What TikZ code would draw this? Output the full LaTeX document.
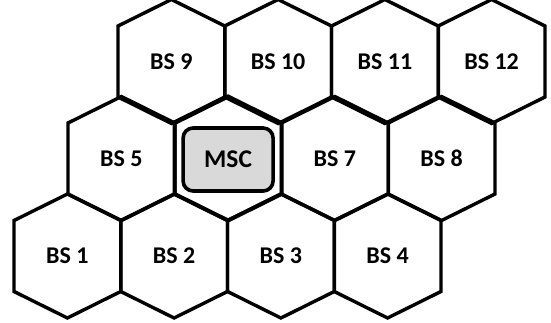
\documentclass[tikz,border=0pt]{standalone}
\usepackage{fontspec}
\setmainfont{Carlito}
\definecolor{mscgray}{HTML}{D9D9D9}
\begin{document}
\begin{tikzpicture}[
  x=1pt, y=-1pt,
  cell/.style={draw, line width=3.4pt, line join=miter},
  lbl/.style={font=\bfseries\fontsize{24}{27}\selectfont, inner sep=0pt},
  mscbox/.style={draw, line width=3.6pt, fill=mscgray, rounded corners=10pt,
    minimum width=90pt, minimum height=63pt, inner sep=0pt,
    font=\bfseries\fontsize{25.5}{28}\selectfont}
]
\useasboundingbox (0,0) rectangle (551,322);
% base station cells: centre x / centre y / name / label
\foreach \cx/\cy/\nm/\txt in {
  67.4/256/bs1/BS 1, 174.1/256/bs2/BS 2, 280.9/256/bs3/BS 3, 387.6/256/bs4/BS 4,
  121.4/158.5/bs5/BS 5, 334.9/158.5/bs7/BS 7, 441.6/158.5/bs8/BS 8,
  171.4/61.5/bs9/BS 9, 278.1/61.5/bs10/BS 10, 384.9/61.5/bs11/BS 11, 491.6/61.5/bs12/BS 12}{
  \draw[cell] (\cx-53.4,\cy-35.5) -- ++(53.4,-26.5) -- ++(53.4,26.5) -- ++(0,71)
    -- ++(-53.4,26.5) -- ++(-53.4,-26.5) -- cycle;
  \node[lbl] (\nm) at (\cx,\cy) {\txt};
}
% switching centre cell
\draw[cell, line width=4pt] (228.1-53.4,158.5-35.5) -- ++(53.4,-26.5) -- ++(53.4,26.5) -- ++(0,71)
  -- ++(-53.4,26.5) -- ++(-53.4,-26.5) -- cycle;
\node[mscbox] (msc) at (228.1,159.5) {MSC};
\end{tikzpicture}
\end{document}
